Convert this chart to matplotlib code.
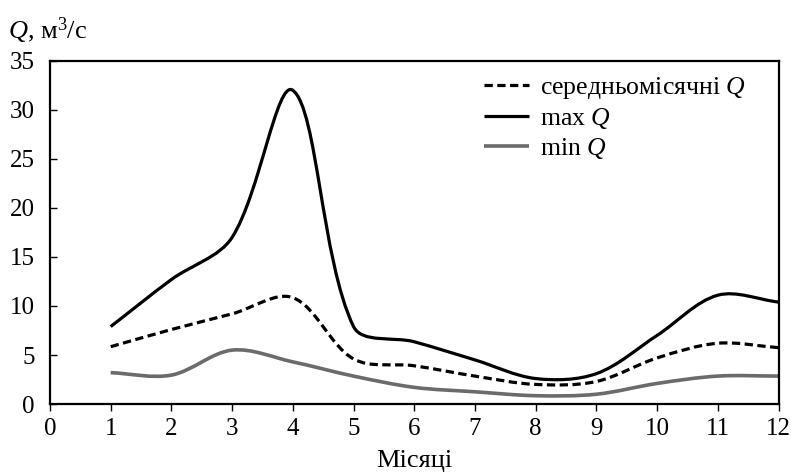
import matplotlib
matplotlib.use("Agg")
import matplotlib.pyplot as plt
from matplotlib.path import Path
from matplotlib.patches import PathPatch
from matplotlib.lines import Line2D
import math

plt.rcParams['font.family'] = ['Liberation Serif', 'DejaVu Serif']
plt.rcParams['mathtext.fontset'] = 'custom'
plt.rcParams['mathtext.rm'] = 'Liberation Serif'
plt.rcParams['mathtext.it'] = 'Liberation Serif:italic'

months = [1, 2, 3, 4, 5, 6, 7, 8, 9, 10, 11, 12]
q_mean = [5.85, 7.6, 9.2, 10.85, 4.6, 3.9, 2.85, 2.0, 2.3, 4.7, 6.2, 5.75]
q_max = [7.9, 12.7, 17.0, 32.0, 7.9, 6.35, 4.5, 2.6, 3.1, 7.0, 11.1, 10.4]
q_min = [3.2, 2.95, 5.5, 4.3, 2.85, 1.7, 1.25, 0.85, 1.0, 2.1, 2.85, 2.85]

x_ticks = list(range(0, 13))
y_ticks = [0, 5, 10, 15, 20, 25, 30, 35]

series_labels = ['середньомісячні $\\mathit{Q}$', 'max $\\mathit{Q}$', 'min $\\mathit{Q}$']

FIG_W, FIG_H = 7.91, 4.72
AX_RECT = [0.0632, 0.144, 0.9210, 0.727]
XLIM, YLIM = (0, 12), (0, 35)


def smooth_path(xs, ys, sx, sy, t=1.0 / 3.0):
    """Smoothed line: cubic Bezier through the data points; tangent
    lengths weighted by neighbouring chord lengths in screen proportions."""
    n = len(xs)
    P = [(x * sx, y * sy) for x, y in zip(xs, ys)]

    def d(i, j):
        return math.hypot(P[j][0] - P[i][0], P[j][1] - P[i][1])

    def ctrl(i):
        a = P[i - 1] if i > 0 else P[i]
        b = P[i + 1] if i < n - 1 else P[i]
        dprev = d(i - 1, i) if i > 0 else 0.0
        dnext = d(i, i + 1) if i < n - 1 else 0.0
        tot = (dprev + dnext) or 1.0
        vx, vy = b[0] - a[0], b[1] - a[1]
        back = (P[i][0] - vx * t * dprev / tot, P[i][1] - vy * t * dprev / tot)
        fwd = (P[i][0] + vx * t * dnext / tot, P[i][1] + vy * t * dnext / tot)
        return back, fwd

    verts = [(xs[0], ys[0])]
    codes = [Path.MOVETO]
    for i in range(n - 1):
        c1 = ctrl(i)[1]
        c2 = ctrl(i + 1)[0]
        verts += [(c1[0] / sx, c1[1] / sy), (c2[0] / sx, c2[1] / sy), (xs[i + 1], ys[i + 1])]
        codes += [Path.CURVE4] * 3
    return Path(verts, codes)


fig = plt.figure(figsize=(FIG_W, FIG_H), dpi=100)
ax = fig.add_axes(AX_RECT)
sx = FIG_W * AX_RECT[2] / (XLIM[1] - XLIM[0])
sy = FIG_H * AX_RECT[3] / (YLIM[1] - YLIM[0])

styles = [
    dict(color='black', lw=2.3, dashes=(2.6, 1.4)),
    dict(color='black', lw=2.3, dashes=None),
    dict(color='#6b6b6b', lw=2.6, dashes=None),
]
handles = []
for ys, st, lab in zip([q_mean, q_max, q_min], styles, series_labels):
    patch = PathPatch(smooth_path(months, ys, sx, sy), fill=False, edgecolor=st['color'],
                      lw=st['lw'], capstyle='butt', joinstyle='round')
    if st['dashes'] is not None:
        patch.set_linestyle((0, st['dashes']))
    ax.add_patch(patch)
    h = Line2D([], [], color=st['color'], lw=st['lw'], solid_capstyle='butt',
               dash_capstyle='butt')
    if st['dashes'] is not None:
        h.set_dashes(st['dashes'])
    h.set_label(lab)
    handles.append(h)

ax.set_xlim(*XLIM)
ax.set_ylim(*YLIM)
ax.set_xticks(x_ticks)
ax.set_yticks(y_ticks)
ax.tick_params(axis='x', direction='out', length=5, width=1, labelsize=18, pad=5)
ax.tick_params(axis='y', direction='in', length=5, width=1, labelsize=18, pad=11)
for s in ax.spines.values():
    s.set_linewidth(1.6)

ax.set_xlabel('Місяці', fontsize=19, labelpad=7)
fig.text(0.010, 0.935, '$\\mathit{Q}$, м$^3$/с', fontsize=19, ha='left', va='center')

leg = ax.legend(handles=handles, loc='upper right', frameon=False, fontsize=18.5,
                handlelength=1.75, handletextpad=0.45, labelspacing=0.2,
                borderaxespad=0.3, bbox_to_anchor=(0.98, 1.012))

fig.savefig('out.png', dpi=100)
